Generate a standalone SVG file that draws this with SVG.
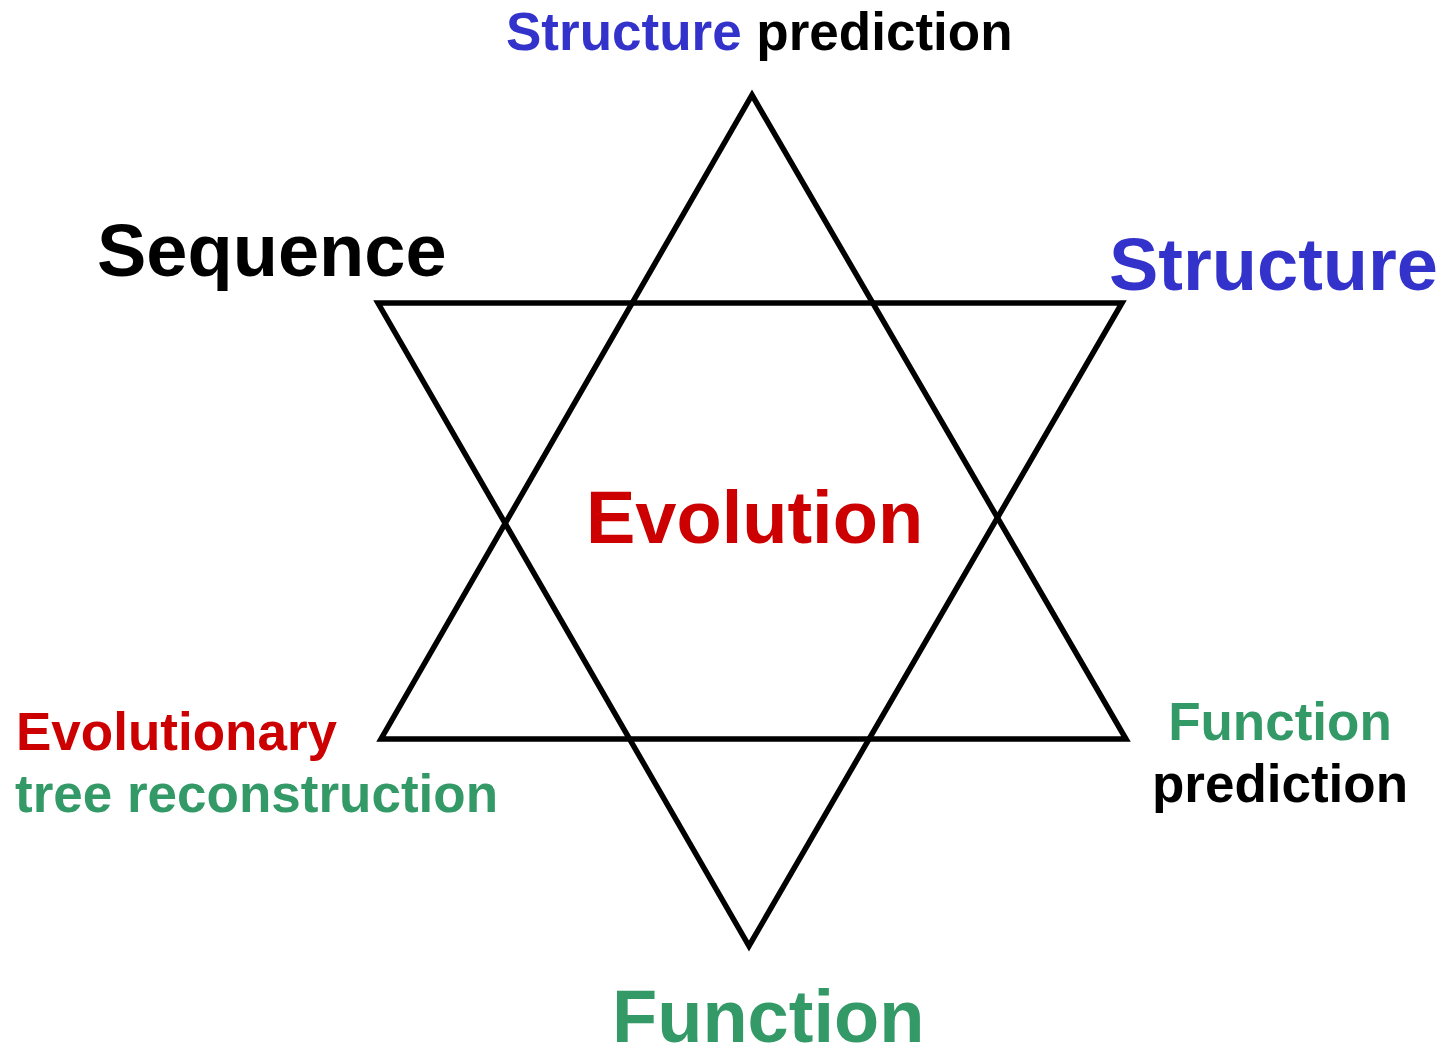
<svg xmlns="http://www.w3.org/2000/svg" width="1445" height="1049" viewBox="0 0 1445 1049">
<style>
text{font-family:"Liberation Sans",Arial,sans-serif;font-weight:bold}
.s{font-size:53px}
.l{font-size:74px}
.b{fill:#3333CC}.r{fill:#CC0000}.g{fill:#339966}.k{fill:#000}
.tri{fill:none;stroke:#000;stroke-width:5.5;stroke-linejoin:miter;stroke-miterlimit:10}
</style>
<rect width="1445" height="1049" fill="#fff"/>
<g id="connectors">
<polygon class="tri" points="752,95 1126,739 381,739"/>
<polygon class="tri" points="378,303 1122,303 749,946"/>
</g>
<g id="structure-prediction"><text class="s" x="506" y="50"><tspan class="b">Structure</tspan><tspan class="k"> prediction</tspan></text></g>
<g id="sequence"><text class="l k" x="97" y="276">Sequence</text></g>
<g id="structure"><text class="l b" x="1109" y="290">Structure</text></g>
<g id="evolution"><text class="l r" x="586" y="543">Evolution</text></g>
<g id="evolutionary-tree"><text class="s r" x="16" y="750">Evolutionary</text><text class="s g" x="15" y="812">tree reconstruction</text></g>
<g id="function-prediction"><text class="s g" x="1280" y="740" text-anchor="middle">Function</text><text class="s k" x="1280" y="802" text-anchor="middle">prediction</text></g>
<g id="function"><text class="l g" x="612" y="1042">Function</text></g>
</svg>
